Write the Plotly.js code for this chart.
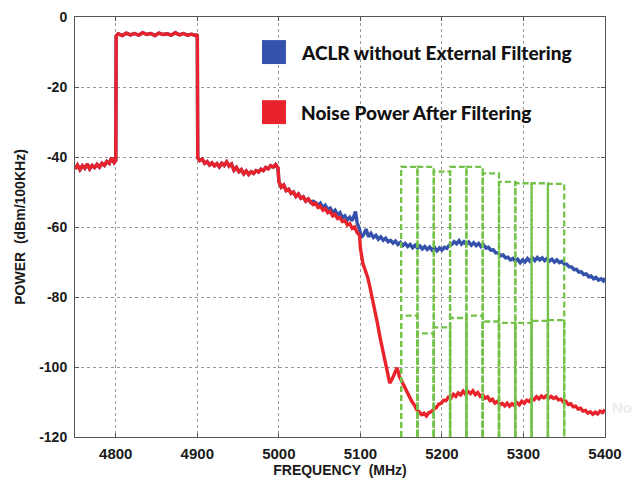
<!DOCTYPE html>
<html>
<head>
<meta charset="utf-8">
<script src="https://cdn.plot.ly/plotly-3.0.1.min.js"></script>
<style>html,body{margin:0;padding:0;background:#fff;}#chart{width:637px;height:481px;}</style>
</head>
<body>
<div id="chart"></div>
<script>
// Shared part of both curves (they coincide up to ~5040 MHz)
const sharedFreq = [4750,4753,4756,4759,4762,4765,4768,4771,4774,4777,4780,4783,4786,4789,4792,4795,4798,4800,4800.5,
  4803,4808,4813,4818,4823,4828,4833,4838,4843,4848,4853,4858,4863,4868,4873,4878,4883,4888,4893,4898,4900,4900.5,
  4903,4906,4909,4912,4915,4918,4921,4924,4927,4930,4933,4936,4939,4942,4945,4948,4951,4954,4957,4960,4963,4966,4969,4972,4975,4978,4981,4984,4987,4990,4993,4996,4999,5000,
  5003,5006,5009,5012,5015,5018,5021,5024,5027,5030,5033,5036,5039];
const sharedPower = [-43.4,-42.3,-43.6,-42.5,-43.2,-42.0,-43.4,-42.4,-43.0,-42.1,-42.9,-41.8,-42.4,-41.3,-41.8,-40.2,-41.6,-41.0,-5.4,
  -4.8,-5.3,-4.6,-5.1,-4.7,-5.2,-4.5,-5.0,-4.7,-5.3,-4.6,-5.0,-4.8,-5.2,-4.5,-5.1,-4.7,-5.2,-4.9,-5.3,-5.0,-40.2,
  -41.0,-40.6,-41.8,-41.3,-42.3,-41.7,-42.5,-41.9,-42.8,-41.8,-42.4,-41.4,-42.6,-42.0,-43.8,-43.0,-44.2,-43.6,-44.8,-44.0,-45.0,-44.2,-44.7,-43.9,-44.3,-43.5,-43.9,-43.0,-43.4,-42.5,-42.9,-42.2,-43.2,-47.0,
  -48.6,-48.0,-49.6,-49.2,-50.4,-50.0,-51.3,-50.6,-51.8,-51.4,-52.6,-52.0,-53.0];

// Noise Power After Filtering (red), beyond the shared part
const redFreq = [5042,5045,5048,5051,5054,5057,5060,5063,5066,5069,5072,5075,5078,5081,5084,5087,5090,5093,5096,5099,5100,
  5103,5106,5109,5112,5115,5118,5121,5124,5127,5130,5133,5136,5139,5142,5145,5148,5151,5154,5157,5160,5163,5166,5169,5172,5175,5178,5181,5184,5187,5190,5193,5196,5199,
  5202,5205,5208,5211,5214,5217,5220,5223,5226,5229,5232,5235,5238,5241,5244,5247,5250,5253,5256,5259,5262,5265,5268,5271,5274,5277,5280,5283,5286,5289,5292,5295,5298,
  5301,5304,5307,5310,5313,5316,5319,5322,5325,5328,5331,5334,5337,5340,5343,5346,5349,5352,5355,5358,5361,5364,5367,5370,5373,5376,5379,5382,5385,5388,5391,5394,5397,5400];
const redPower = [-53.6,-53.2,-54.4,-54.0,-55.2,-54.8,-55.9,-55.5,-56.8,-56.4,-57.6,-57.3,-58.4,-58.2,-59.4,-59.0,-60.4,-60.0,-61.6,-62.4,-66.0,
  -70.4,-72.6,-74.4,-77.5,-80.6,-84.0,-87.6,-91.4,-94.8,-98.6,-101.8,-104.6,-103.4,-101.5,-100.2,-102.8,-104.2,-105.8,-107.2,-108.4,-109.8,-110.8,-112.2,-112.8,-113.6,-113.2,-114.0,-113.0,-112.8,-112.0,-111.6,-110.6,-110.4,
  -109.5,-109.6,-108.6,-108.9,-107.8,-108.4,-107.4,-108.0,-106.9,-107.8,-107.0,-107.6,-106.8,-107.9,-107.3,-108.4,-107.9,-108.9,-108.5,-109.6,-109.2,-110.3,-109.8,-110.8,-110.4,-111.1,-110.3,-111.2,-110.5,-111.0,-110.2,-110.8,-109.8,
  -110.4,-109.5,-109.9,-109.0,-109.4,-108.5,-109.1,-108.3,-108.8,-108.2,-108.9,-108.4,-109.0,-108.6,-109.4,-109.2,-110.0,-109.8,-110.7,-110.5,-111.4,-111.2,-112.0,-111.8,-112.6,-112.4,-113.2,-112.8,-113.5,-112.9,-113.4,-112.6,-113.0,-112.2];

// ACLR without External Filtering (blue), beyond the shared part
const blueFreq = [5042,5045,5048,5051,5054,5057,5060,5063,5066,5069,5072,5075,5078,5081,5084,5087,5090,5092,5094,5096,5099,
  5101,5104,5107,5110,5113,5116,5119,5122,5125,5128,5131,5134,5137,5140,5143,5146,5149,5152,5155,5158,5161,5164,5167,5170,5173,5176,5179,5182,5185,5188,5191,5194,5197,5200,
  5203,5206,5209,5212,5215,5218,5221,5224,5227,5230,5233,5236,5239,5242,5245,5248,5251,5254,5257,5260,5263,5266,5269,5272,5275,5278,5281,5284,5287,5290,5293,5296,5299,
  5302,5305,5308,5311,5314,5317,5320,5323,5326,5329,5332,5335,5338,5341,5344,5347,5350,5353,5356,5359,5362,5365,5368,5371,5374,5377,5380,5383,5386,5389,5392,5395,5398,5400];
const bluePower = [-52.6,-53.0,-53.8,-53.2,-54.5,-53.8,-55.0,-54.6,-55.8,-55.2,-56.6,-55.9,-57.4,-56.8,-58.0,-57.2,-58.2,-56.5,-55.6,-58.8,-60.6,
  -63.0,-62.2,-60.6,-62.8,-61.8,-63.0,-62.4,-63.5,-62.8,-63.8,-63.2,-64.2,-63.8,-64.6,-64.0,-65.0,-64.4,-65.3,-64.7,-65.6,-65.0,-65.9,-65.2,-66.0,-65.4,-66.3,-65.6,-66.4,-65.7,-66.6,-65.9,-66.8,-66.0,-66.6,
  -65.8,-66.1,-65.2,-65.0,-64.2,-64.8,-63.9,-64.9,-64.2,-65.0,-64.3,-65.2,-64.5,-65.3,-64.7,-65.6,-65.1,-66.0,-65.8,-66.6,-66.5,-67.4,-67.4,-68.2,-68.0,-68.8,-68.6,-69.4,-69.0,-69.8,-69.2,-70.2,-69.4,
  -70.0,-69.0,-69.8,-68.8,-69.6,-68.7,-69.4,-68.8,-69.6,-69.0,-69.7,-69.2,-70.0,-69.4,-70.2,-69.8,-70.6,-70.6,-71.4,-71.4,-72.2,-72.1,-72.9,-72.8,-73.6,-73.4,-74.2,-74.0,-74.8,-74.4,-75.2,-74.8,-75.4,-74.6];

// 20 MHz channel masks (green dashed boxes)
const channelStart = [5150,5170,5190,5210,5230,5250,5270,5290,5310,5330];
const channelEnd   = [5170,5190,5210,5230,5250,5270,5290,5310,5330,5350];
const upperMaskTop = [-42.8,-42.8,-44.2,-42.8,-42.8,-44.7,-47.1,-47.5,-47.5,-47.7];
const lowerMaskTop = [-85.3,-90.4,-88.7,-86.0,-85.3,-87.0,-87.4,-87.4,-86.8,-86.6];
const maskFloor = -120;

const xTicks = [4800,4900,5000,5100,5200,5300,5400];
const yTicks = [-120,-100,-80,-60,-40,-20,0];
const seriesNames = ['ACLR without External Filtering','Noise Power After Filtering'];

const BLUE = '#3451ab', RED = '#e8232b', GREEN = '#74c24a';

const traces = [
  {x: sharedFreq.concat(blueFreq), y: sharedPower.concat(bluePower), type:'scatter', mode:'lines',
   name: seriesNames[0], line:{color:BLUE, width:3.4}, showlegend:false},
  {x: sharedFreq.concat(redFreq), y: sharedPower.concat(redPower), type:'scatter', mode:'lines',
   name: seriesNames[1], line:{color:RED, width:3.4}, showlegend:false}
];
function addBoxes(tops){
  for (let i = 0; i < channelStart.length; i++) {
    traces.push({x:[channelStart[i],channelStart[i],channelEnd[i],channelEnd[i]],
                 y:[maskFloor,tops[i],tops[i],maskFloor], type:'scatter', mode:'lines',
                 line:{color:GREEN, width:2.3, dash:'6px,3px'}, showlegend:false, hoverinfo:'skip'});
  }
}
addBoxes(upperMaskTop);
addBoxes(lowerMaskTop);

const tickFontX = {family:'"Liberation Sans", Arial, sans-serif', size:15, color:'#1a1a1a', weight:'bold'};
const tickFontY = {family:'"Liberation Sans", Arial, sans-serif', size:14, color:'#1a1a1a', weight:'bold'};
const titleFont = {family:'"Liberation Sans", Arial, sans-serif', size:14, color:'#1a1a1a', weight:'bold'};
const legFont = {family:'Lato, "Open Sans", sans-serif', size:19, color:'#111', weight:900};

const layout = {
  width:637, height:481,
  margin:{l:75, r:32, t:17, b:44},
  paper_bgcolor:'#fff', plot_bgcolor:'#fff',
  showlegend:false,
  xaxis:{range:[4750,5400], tickvals:xTicks, ticktext:xTicks.map(String), tickfont:tickFontX,
    showgrid:true, gridcolor:'#9a9a9a', griddash:'dot', gridwidth:1, zeroline:false,
    showline:true, linecolor:'#555', linewidth:1, mirror:'all', ticks:'inside', ticklen:4, tickcolor:'#555',
    ticklabelstandoff:3,
    title:{text:'FREQUENCY  (MHz)', font:titleFont, standoff:3}},
  yaxis:{range:[-120,0], tickvals:yTicks, ticktext:yTicks.map(String), tickfont:tickFontY,
    showgrid:true, gridcolor:'#9a9a9a', griddash:'dot', gridwidth:1, zeroline:false,
    showline:true, linecolor:'#555', linewidth:1, mirror:'all', ticks:'inside', ticklen:4, tickcolor:'#555',
    ticklabelstandoff:4,
    title:{text:'POWER  (dBm/100KHz)', font:titleFont, standoff:10}},
  shapes:[
    {type:'rect', xref:'paper', yref:'paper', x0:0.3528, x1:0.398, y0:0.888, y1:0.945, fillcolor:BLUE, line:{width:0}},
    {type:'rect', xref:'paper', yref:'paper', x0:0.3528, x1:0.398, y0:0.745, y1:0.802, fillcolor:RED, line:{width:0}}
  ],
  annotations:[
    {xref:'paper', yref:'paper', x:0.4225, y:0.9165, xanchor:'left', yanchor:'middle', text:seriesNames[0], showarrow:false, font:legFont},
    {xref:'paper', yref:'paper', x:0.4225, y:0.7735, xanchor:'left', yanchor:'middle', text:seriesNames[1], showarrow:false, font:legFont},
    {xref:'paper', yref:'paper', x:1.01, y:0.07, xanchor:'left', yanchor:'middle', text:'No', showarrow:false,
     font:{family:'"Liberation Sans", Arial, sans-serif', size:15, color:'#ececec', weight:'bold'}}
  ]
};

Plotly.newPlot('chart', traces, layout, {displayModeBar:false, staticPlot:true});
</script>
</body>
</html>
